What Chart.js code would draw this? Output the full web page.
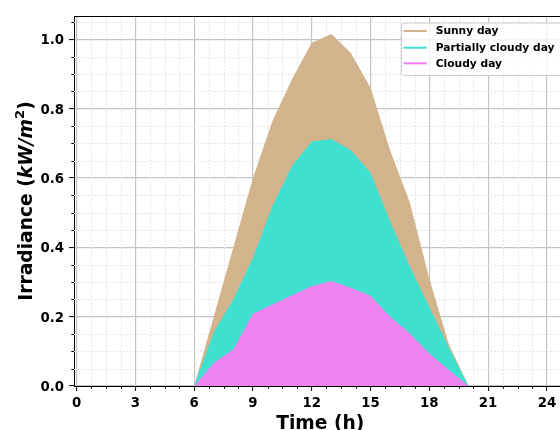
<!DOCTYPE html>
<html>
<head>
<meta charset="utf-8">
<script src="https://cdn.jsdelivr.net/npm/chart.js@4"></script>
<style>
  html, body { margin: 0; padding: 0; background: #fff; overflow: hidden; }
  #wrap { width: 560px; height: 430px; overflow: hidden; }
</style>
</head>
<body>
<div id="wrap"><canvas id="grafico" width="580" height="430"></canvas></div>
<script>
// dados (irradiância em kW/m2 por hora)
const horas = [1, 2, 3, 4, 5, 6, 7, 8, 9, 10, 11, 12, 13, 14, 15, 16, 17, 18, 19, 20, 21, 22, 23, 24];
const ensolarado = [0, 0, 0, 0, 0, 0, 0.20, 0.40, 0.60, 0.765, 0.885, 0.99, 1.015, 0.96, 0.86, 0.68, 0.53, 0.31, 0.12, 0, 0, 0, 0, 0];
const parcial = [0, 0, 0, 0, 0, 0, 0.155, 0.25, 0.37, 0.52, 0.635, 0.705, 0.712, 0.68, 0.615, 0.475, 0.345, 0.228, 0.11, 0, 0, 0, 0, 0];
const nublado = [0, 0, 0, 0, 0, 0, 0.066, 0.105, 0.208, 0.235, 0.262, 0.288, 0.303, 0.283, 0.26, 0.20, 0.152, 0.094, 0.046, 0, 0, 0, 0, 0];

const rotulos = ['Sunny day', 'Partially cloudy day', 'Cloudy day'];
const ticksX = [0, 3, 6, 9, 12, 15, 18, 21, 24];
const ticksY = [0, 0.2, 0.4, 0.6, 0.8, 1.0];

const FONTE = 'DejaVu Sans';
const cores = ['#D2B48C', '#40E0D0', '#EE82EE'];

function pontos(valores) {
    return horas.map((h, i) => ({ x: h, y: valores[i] }));
}

function serie(label, valores, cor, ordem) {
    return {
        label: label,
        data: pontos(valores),
        backgroundColor: cor,
        borderColor: cor,
        borderWidth: 0,
        pointRadius: 0,
        fill: 'origin',
        tension: 0,
        order: ordem
    };
}

// grade secundária, ticks menores, bordas, títulos e legenda
const extras = {
    id: 'extras',
    beforeDatasetsDraw(chart) {
        const { ctx, chartArea: a, scales: { x, y } } = chart;
        ctx.save();
        ctx.strokeStyle = '#e4e4e4';
        ctx.lineWidth = 1;
        ctx.setLineDash([2, 1.5]);
        for (let k = 1; k * 0.75 < x.max; k++) {
            if (k % 4 === 0) continue;
            const px = Math.round(x.getPixelForValue(k * 0.75)) + 0.5;
            ctx.beginPath(); ctx.moveTo(px, a.top); ctx.lineTo(px, a.bottom); ctx.stroke();
        }
        for (let k = 1; k * 0.05 < y.max; k++) {
            if (k % 4 === 0) continue;
            const py = Math.round(y.getPixelForValue(k * 0.05)) + 0.5;
            ctx.beginPath(); ctx.moveTo(a.left, py); ctx.lineTo(a.right, py); ctx.stroke();
        }
        ctx.restore();
    },
    afterDraw(chart) {
        const { ctx, chartArea: a, scales: { x, y } } = chart;
        ctx.save();
        // ticks menores
        ctx.strokeStyle = '#000';
        ctx.lineWidth = 1;
        for (let k = 1; k * 0.75 < x.max; k++) {
            if (k % 4 === 0) continue;
            const px = Math.round(x.getPixelForValue(k * 0.75)) + 0.5;
            ctx.beginPath(); ctx.moveTo(px, a.bottom); ctx.lineTo(px, a.bottom + 2.7); ctx.stroke();
        }
        for (let k = 1; k * 0.05 < y.max; k++) {
            if (k % 4 === 0) continue;
            const py = Math.round(y.getPixelForValue(k * 0.05)) + 0.5;
            ctx.beginPath(); ctx.moveTo(a.left, py); ctx.lineTo(a.left - 2.7, py); ctx.stroke();
        }
        // bordas de cima e da direita
        ctx.beginPath();
        ctx.moveTo(a.left, a.top + 0.5); ctx.lineTo(a.right, a.top + 0.5);
        ctx.moveTo(a.right - 0.5, a.top); ctx.lineTo(a.right - 0.5, a.bottom);
        ctx.stroke();

        // título do eixo x
        ctx.fillStyle = '#000';
        ctx.font = `bold 18.7px "${FONTE}"`;
        ctx.textAlign = 'center';
        ctx.textBaseline = 'alphabetic';
        ctx.fillText('Time (h)', (a.left + a.right) / 2, 428.5);

        // título do eixo y com kW/m em itálico e expoente
        const t = 18.7;
        const partes = [
            { txt: 'Irradiance (', font: `bold ${t}px "${FONTE}"`, sobe: 0 },
            { txt: 'kW/m', font: `italic bold ${t}px "${FONTE}"`, sobe: 0 },
            { txt: '2', font: `bold ${t * 0.7}px "${FONTE}"`, sobe: t * 0.42 },
            { txt: ')', font: `bold ${t}px "${FONTE}"`, sobe: 0 }
        ];
        let total = 0;
        partes.forEach(p => { ctx.font = p.font; p.w = ctx.measureText(p.txt).width; total += p.w; });
        ctx.translate(31.5, (a.top + a.bottom) / 2);
        ctx.rotate(-Math.PI / 2);
        ctx.textAlign = 'left';
        let cx = -total / 2;
        partes.forEach(p => {
            ctx.font = p.font;
            ctx.fillText(p.txt, cx, -p.sobe);
            cx += p.w;
        });
        ctx.setTransform(1, 0, 0, 1, 0, 0);

        // legenda dentro da área
        const bx = 401, by = 22.5, bw = 160, bh = 52.5;
        ctx.beginPath();
        ctx.roundRect(bx + 0.5, by + 0.5, bw, bh, 3);
        ctx.fillStyle = 'rgba(255,255,255,0.8)';
        ctx.fill();
        ctx.strokeStyle = '#cccccc';
        ctx.lineWidth = 1;
        ctx.stroke();
        const linhas = [31, 47.7, 63.3];
        ctx.font = `bold 10.7px "${FONTE}"`;
        ctx.textBaseline = 'middle';
        chart.data.datasets.forEach((ds, i) => {
            ctx.strokeStyle = ds.borderColor;
            ctx.lineWidth = 2;
            ctx.beginPath();
            ctx.moveTo(403.5, linhas[i]); ctx.lineTo(426.7, linhas[i]);
            ctx.stroke();
            ctx.fillStyle = '#000';
            ctx.fillText(ds.label, 435.7, linhas[i] + 0.5);
        });
        ctx.restore();
    }
};

const fonteTick = { family: FONTE, size: 13.3, weight: 'bold' };

new Chart(document.getElementById('grafico'), {
    type: 'line',
    data: {
        datasets: [
            serie(rotulos[0], ensolarado, cores[0], 3),
            serie(rotulos[1], parcial, cores[1], 2),
            serie(rotulos[2], nublado, cores[2], 1)
        ]
    },
    options: {
        responsive: false,
        animation: false,
        devicePixelRatio: 1,
        layout: { padding: { top: 16, right: 13.5, left: 0, bottom: 0 } },
        plugins: { legend: { display: false }, tooltip: { enabled: false } },
        scales: {
            x: {
                type: 'linear',
                min: -0.13,
                max: 25,
                afterBuildTicks: s => { s.ticks = ticksX.map(v => ({ value: v })); },
                afterFit: s => { s.height = 44; },
                grid: { color: '#c4c4c4', lineWidth: 1.2, tickLength: 5, tickColor: '#000', tickWidth: 1 },
                border: { color: '#000', width: 1 },
                ticks: { font: fonteTick, color: '#000', padding: 5, maxRotation: 0, autoSkip: false }
            },
            y: {
                min: 0,
                max: 1.067,
                afterBuildTicks: s => { s.ticks = ticksY.map(v => ({ value: v })); },
                afterFit: s => { s.width = 74; },
                grid: { color: '#c4c4c4', lineWidth: 1.2, tickLength: 5, tickColor: '#000', tickWidth: 1 },
                border: { color: '#000', width: 1 },
                ticks: { font: fonteTick, color: '#000', padding: 5, labelOffset: 1.5, callback: v => v.toFixed(1) }
            }
        }
    },
    plugins: [extras]
});
</script>
</body>
</html>
